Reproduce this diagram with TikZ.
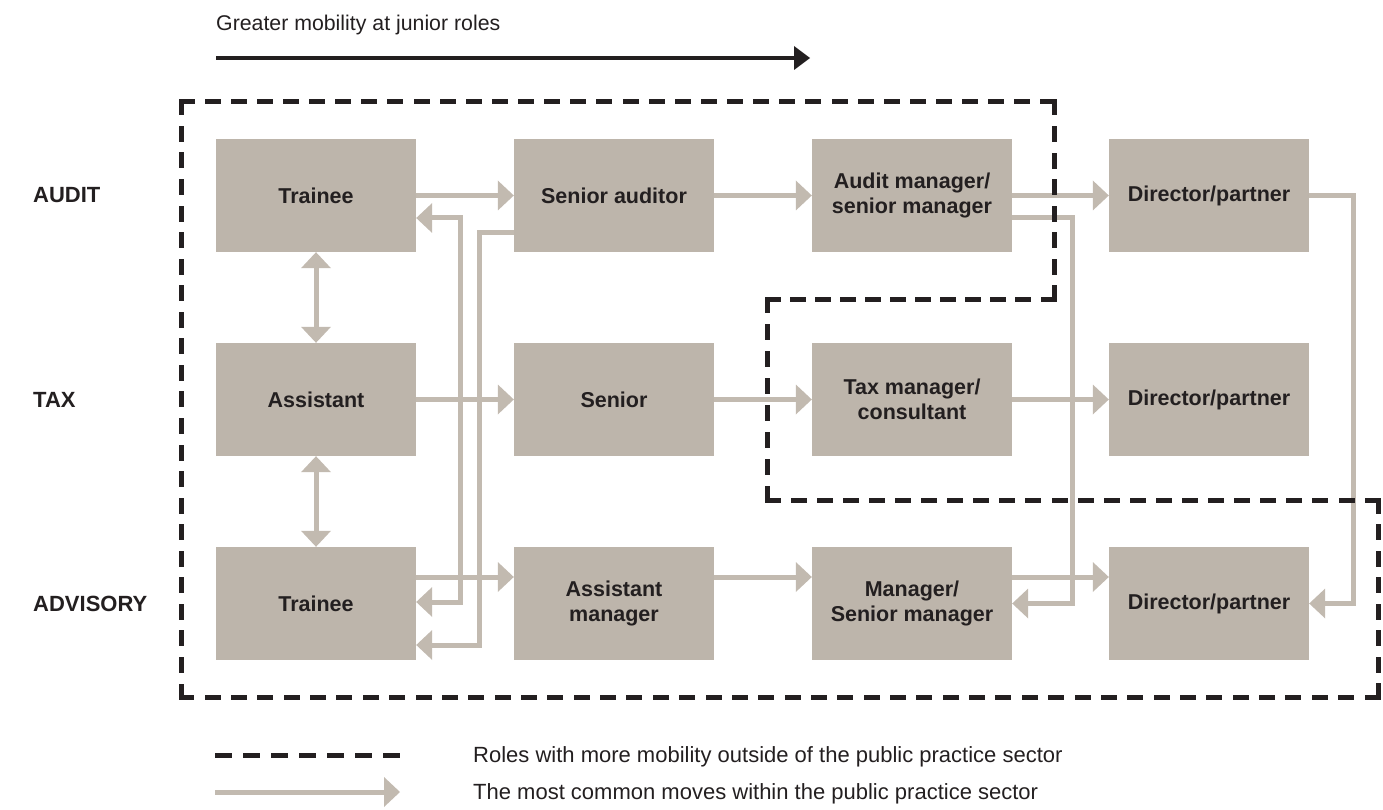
\documentclass[tikz,border=0pt]{standalone}
\usepackage{fontspec}
\setmainfont{Liberation Sans}
\usetikzlibrary{arrows.meta}
\definecolor{boxc}{HTML}{BDB5AB}
\definecolor{arrc}{HTML}{C2BAB0}
\definecolor{inkc}{HTML}{231F20}
\begin{document}
\begin{tikzpicture}[x=1pt,y=-1pt,
  rolebox/.style={fill=boxc, minimum width=200pt, minimum height=113pt, inner sep=0pt, align=center,
    font=\fontsize{21.5}{24.5}\selectfont\bfseries, text=inkc},
  arr/.style={draw=arrc, line width=5pt, -{Triangle[length=16pt,width=30pt,line width=0pt]}},
  dbl/.style={draw=arrc, line width=5pt, {Triangle[length=16pt,width=30pt,line width=0pt]}-{Triangle[length=16pt,width=30pt,line width=0pt]}},
  darr/.style={draw=inkc, line width=4.5pt, -{Triangle[length=16pt,width=24pt,line width=0pt]}},
  region/.style={draw=inkc, line width=5pt, line cap=rect, dash pattern=on 11pt off #1},
  rowlab/.style={anchor=west, font=\fontsize{22}{24}\selectfont\bfseries, text=inkc, inner sep=0pt},
  legtext/.style={anchor=west, font=\fontsize{22}{24}\selectfont, text=inkc, inner sep=0pt}]
\useasboundingbox (0,0) rectangle (1383,810);

% title arrow
\node[legtext, font=\fontsize{21.3}{24}\selectfont] (title) at (216,24.5) {Greater mobility at junior roles};
\coordinate (ts) at (216,58);
\coordinate (te) at (810,58);
\draw[darr] (ts) -- (te);

% row labels
\node[rowlab] (lA) at (33,195.5) {AUDIT};
\node[rowlab] (lT) at (33,399.5) {TAX};
\node[rowlab] (lV) at (33,603.5) {ADVISORY};

% boxes
\node[rolebox] (AT) at (316,195.5) {Trainee};
\node[rolebox] (SA) at (614,195.5) {Senior auditor};
\node[rolebox] (AM) at (912,195.5) {Audit manager/\\senior manager};
\node[rolebox] (AD) at (1209,195.5) {Director/partner};
\node[rolebox] (TA) at (316,399.5) {Assistant};
\node[rolebox] (TS) at (614,399.5) {Senior};
\node[rolebox] (TM) at (912,399.5) {Tax manager/\\consultant};
\node[rolebox] (TD) at (1209,399.5) {Director/partner};
\node[rolebox] (VT) at (316,603.5) {Trainee};
\node[rolebox] (VA) at (614,603.5) {Assistant\\manager};
\node[rolebox] (VM) at (912,603.5) {Manager/\\Senior manager};
\node[rolebox] (VD) at (1209,603.5) {Director/partner};

% row arrows
\draw[arr] (AT) -- (SA);
\draw[arr] (SA) -- (AM);
\draw[arr] (AM) -- (AD);
\draw[arr] (TA) -- (TS);
\draw[arr] (TS) -- (TM);
\draw[arr] (TM) -- (TD);
\draw[arr] ([yshift=26.5pt]VT.east) -- ([yshift=26.5pt]VA.west);
\draw[arr] ([yshift=26.5pt]VA.east) -- ([yshift=26.5pt]VM.west);
\draw[arr] ([yshift=26.5pt]VM.east) -- ([yshift=26.5pt]VD.west);

% vertical double arrows
\draw[dbl] (AT) -- (TA);
\draw[dbl] (TA) -- (VT);

% cross moves
\draw[dbl] ([yshift=-22.5pt]AT.east) -- ++(44,0) |- ([yshift=1.5pt]VT.east);
\draw[arr] ([yshift=-37.5pt]SA.west) -- ++(-34,0) |- ([yshift=-41.5pt]VT.east);
\draw[arr] ([yshift=-22pt]AM.east) -- ++(60,0) |- (VM.east);
\draw[arr] (AD.east) -- ++(44,0) |- (VD.east);

% dashed region, side by side so every corner carries a dash
\coordinate (r1) at (181,102);
\coordinate (r2) at (1054,102);
\coordinate (r3) at (1054,299);
\coordinate (r4) at (767,299);
\coordinate (r5) at (767,500);
\coordinate (r6) at (1378,500);
\coordinate (r7) at (1378,697);
\coordinate (r8) at (181,697);
\draw[region=15.12pt] (r1) -- (r2);
\draw[region=15.57pt] (r2) -- (r3);
\draw[region=14.09pt] (r3) -- (r4);
\draw[region=16.14pt] (r4) -- (r5);
\draw[region=15.09pt] (r5) -- (r6);
\draw[region=15.57pt] (r6) -- (r7);
\draw[region=15.36pt] (r7) -- (r8);
\draw[region=15.55pt] (r8) -- (r1);

% legend
\coordinate (l1a) at (217.5,755);
\coordinate (l1b) at (397.5,755);
\draw[region=16pt, dash pattern=on 12pt off 16pt] (l1a) -- (l1b);
\node[legtext] (leg1) at (473,756.5) {Roles with more mobility outside of the public practice sector};
\coordinate (l2a) at (215,792);
\coordinate (l2b) at (400,792);
\draw[arr] (l2a) -- (l2b);
\node[legtext] (leg2) at (473,793.5) {The most common moves within the public practice sector};
\end{tikzpicture}
\end{document}
